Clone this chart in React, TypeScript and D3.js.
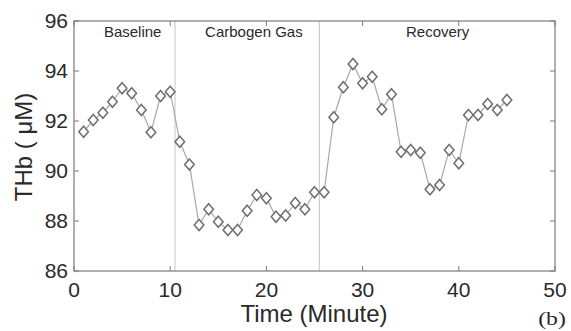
import React from 'react'
import * as d3 from 'd3'

const minutes = d3.range(1, 46)
const thb = [
  91.57, 92.04, 92.33, 92.77, 93.31, 93.11, 92.44, 91.55, 93.0, 93.17,
  91.17, 90.26, 87.84, 88.47, 87.97, 87.64, 87.64, 88.41, 89.04, 88.91,
  88.17, 88.22, 88.72, 88.47, 89.15, 89.15, 92.15, 93.35, 94.28, 93.51,
  93.77, 92.47, 93.07, 90.77, 90.84, 90.73, 89.27, 89.44, 90.84, 90.31,
  92.24, 92.24, 92.68, 92.44, 92.84,
]
const phaseBreaks = [10.5, 25.5]
const phaseLabels = [
  { name: 'Baseline', at: 6.1 },
  { name: 'Carbogen Gas', at: 18.7 },
  { name: 'Recovery', at: 37.8 },
]
const xTicks = [0, 10, 20, 30, 40, 50]
const yTicks = [86, 88, 90, 92, 94, 96]

const W = 571, H = 331
const M = { left: 74, right: 16, top: 21, bottom: 60 }
const FONT = 'Liberation Sans, Arial, sans-serif'

export default function App() {
  const x = d3.scaleLinear().domain([0, 50]).range([M.left, W - M.right])
  const y = d3.scaleLinear().domain([86, 96]).range([H - M.bottom, M.top])
  const [x0, x1] = x.range()
  const [y0, y1] = y.range()
  const line = d3.line<number>().x((_, i) => x(minutes[i])).y(d => y(d))
  const tk = 5
  const axisCol = '#7a7a7a'
  const txt = '#2a2a2a'

  return (
    <svg width={W} height={H} style={{ position: 'absolute', left: 0, top: 0, background: '#fff' }}>
      {phaseBreaks.map(b => (
        <line key={b} x1={x(b)} x2={x(b)} y1={y1} y2={y0} stroke="#c4c4c4" strokeWidth={1} />
      ))}
      <rect x={x0} y={y1} width={x1 - x0} height={y0 - y1} fill="none" stroke={axisCol} strokeWidth={1.2} />
      {xTicks.map(t => (
        <g key={'x' + t}>
          <line x1={x(t)} x2={x(t)} y1={y0} y2={y0 - tk} stroke={axisCol} />
          <line x1={x(t)} x2={x(t)} y1={y1} y2={y1 + tk} stroke={axisCol} />
          <text x={x(t)} y={297} textAnchor="middle" fontFamily={FONT} fontSize={21} fill={txt}>{t}</text>
        </g>
      ))}
      {yTicks.map(t => (
        <g key={'y' + t}>
          <line x1={x0} x2={x0 + tk} y1={y(t)} y2={y(t)} stroke={axisCol} />
          <line x1={x1} x2={x1 - tk} y1={y(t)} y2={y(t)} stroke={axisCol} />
          <text x={68} y={y(t) + 7} textAnchor="end" fontFamily={FONT} fontSize={21} fill={txt}>{t}</text>
        </g>
      ))}
      {phaseLabels.map(p => (
        <text key={p.name} x={x(p.at)} y={37} textAnchor="middle" fontFamily={FONT} fontSize={15} fill={txt}>{p.name}</text>
      ))}
      <path d={line(thb) || ''} fill="none" stroke="#a8a8a8" strokeWidth={1.2} />
      {thb.map((v, i) => {
        const cx = x(minutes[i]), cy = y(v)
        return (
          <path key={i} d={`M${cx},${cy - 5.5}L${cx + 4.8},${cy}L${cx},${cy + 5.5}L${cx - 4.8},${cy}Z`}
            fill="#fff" stroke="#6e6e6e" strokeWidth={1.5} />
        )
      })}
      <text x={314} y={322} textAnchor="middle" fontFamily={FONT} fontSize={24} fill={txt}>Time (Minute)</text>
      <text transform={`translate(32,147) rotate(-90)`} textAnchor="middle" fontFamily={FONT} fontSize={24} fill={txt}>THb ( μM)</text>
      <text transform="translate(552,325) scale(1.25,1)" textAnchor="middle" fontFamily="Liberation Serif, Times New Roman, serif" fontSize={19} fill={txt}>(b)</text>
    </svg>
  )
}
